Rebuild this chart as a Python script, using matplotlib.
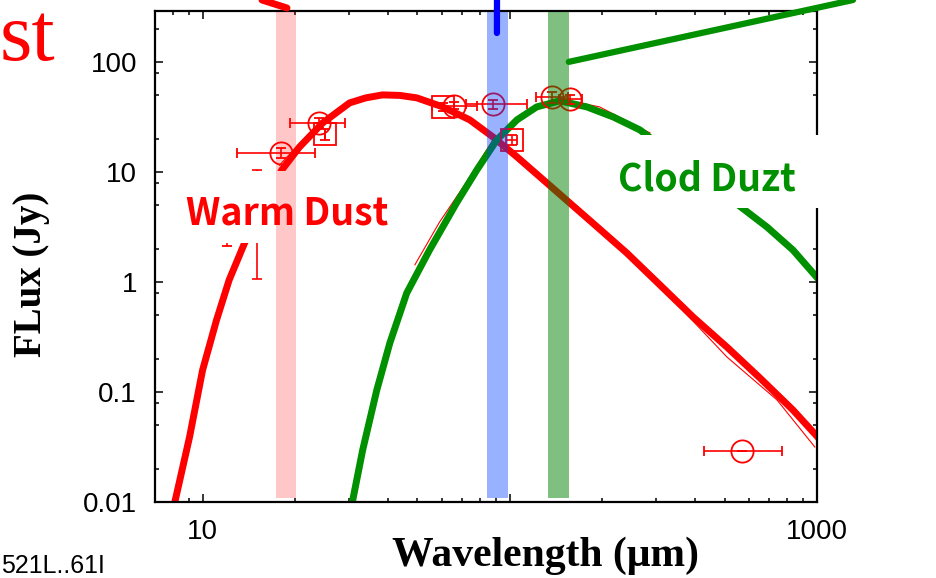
import matplotlib
matplotlib.use("Agg")
import matplotlib.pyplot as plt
from matplotlib.patches import Rectangle
from matplotlib.ticker import FixedLocator, NullFormatter, LogLocator

# --- curves (wavelength um, flux Jy) ---
warm_lam = [8.11, 9.07, 10.0, 11.1, 12.2, 13.7, 18.1, 20.7, 24.6, 30.1, 34.0, 38.5, 43.8,
            49.8, 60.5, 74.1, 88.1, 105.5, 132, 186, 240, 308, 395, 509, 652, 835, 1047]
warm_flux = [0.0098, 0.039, 0.158, 0.45, 1.04, 2.26, 10.4, 16.9, 27.9, 42.4, 47.1, 50.1, 49.6,
             47.1, 39.0, 29.7, 20.8, 13.7, 7.94, 3.44, 1.84, 0.94, 0.48, 0.256, 0.134, 0.0686, 0.0344]

cold_lam = [30.5, 33.2, 36.9, 40.7, 46.2, 54.8, 67.1, 78.1, 90.7, 105.5, 122.4, 145.5,
            178, 217, 265, 570, 687, 835, 1023]
cold_flux = [0.009, 0.0297, 0.104, 0.279, 0.794, 1.95, 5.23, 10.4, 19.5, 29.7, 39.0, 44.2,
             39.0, 31.6, 24.1, 4.71, 3.16, 1.95, 1.02]

# thin fit lines
fit_warm_lam = [17.8, 20.7, 24.6, 30.1, 38.5, 49.8, 60.5, 74.1, 88.1, 105.5, 132, 186, 240,
                308, 395, 509, 741, 984]
fit_warm_flux = [11.5, 18.2, 29.5, 43, 50.1, 47.1, 39.0, 29.7, 20.8, 13.7, 7.94, 3.44, 1.84,
                 0.92, 0.44, 0.208, 0.0846, 0.0316]
fit_cold_lam = [49.1, 59.1, 71.3, 88.1, 108, 145.5, 196, 286]
fit_cold_flux = [1.43, 3.51, 7.62, 19.5, 33.0, 46.1, 39.0, 22.6]

# --- photometry ---
circ_lam = [17.96, 23.9, 66, 88, 137, 157, 570]
circ_flux = [14.9, 27.9, 40, 41.3, 47.7, 45.8, 0.0292]
circ_xlo = [12.9, 19.2, 56, 72, 122, 145, 428]
circ_xhi = [23.2, 29.0, 78, 114, 155, 172, 769]
circ_yerr = [1.5, 3.0, 3.0, 4.0, 5.0, 4.0, 0.0]

sq_lam = [12.0, 25.1, 60.5, 101.5]
sq_flux = [3.0, 22.0, 39.0, 19.5]
sq_yerr = [0.9, 2.5, 3.0, 2.0]
sq_xerr = [0.0, 0.0, 0.0, 4.0]

lim_lam = [15.0]
lim_flux = [3.3]
lim_ylo = [1.07]
lim_yhi = [10.4]

# photometric bands (um)
bands = [(17.3, 20.2, (1, 0, 0), 0.22), (84.1, 98.5, (0, 64/255, 1), 0.4), (133, 155.6, (0, 0.5, 0), 0.5)]

W, H = 937, 578
def fx(px):
    return px / W
def fy(py):
    return 1 - py / H

red = '#ff0000'
green = '#009000'

fig = plt.figure(figsize=(9.37, 5.78), dpi=100)
ax = fig.add_axes([fx(155), fy(502), (817 - 155) / W, (502 - 11) / H])
ax.set_xscale('log')
ax.set_yscale('log')
ax.set_xlim(7, 1000)
ax.set_ylim(0.01, 290)

ax.plot(fit_warm_lam, fit_warm_flux, color=red, lw=0.8, zorder=2)
ax.plot(fit_cold_lam, fit_cold_flux, color=red, lw=0.8, zorder=2)
ax.plot(warm_lam, warm_flux, color=red, lw=5, zorder=2.2, solid_capstyle='butt')
ax.plot(cold_lam, cold_flux, color=green, lw=5, zorder=2.3, solid_capstyle='butt')

xl = [l - a for l, a in zip(circ_lam, circ_xlo)]
xh = [b - l for l, b in zip(circ_lam, circ_xhi)]
ax.errorbar(circ_lam, circ_flux, xerr=[xl, xh], yerr=circ_yerr, fmt='o', ms=16, mfc='none',
            mec=red, mew=1.3, ecolor=red, elinewidth=1.2, capsize=3.5, capthick=1.2, zorder=3)
ax.errorbar(sq_lam, sq_flux, xerr=sq_xerr, yerr=sq_yerr, fmt='s', ms=16, mfc='none',
            mec=red, mew=1.3, ecolor=red, elinewidth=1.2, capsize=3.5, capthick=1.2, zorder=3)
ax.errorbar(lim_lam, lim_flux,
            yerr=[[f - lo for f, lo in zip(lim_flux, lim_ylo)], [hi - f for f, hi in zip(lim_flux, lim_yhi)]],
            fmt='none', ecolor=red, elinewidth=1.2, capsize=3.5, capthick=1.2, zorder=3)

# ticks
ax.xaxis.set_major_locator(FixedLocator([10, 100, 1000]))
ax.set_xticklabels(['10', '', '1000'])
ax.xaxis.set_minor_locator(LogLocator(base=10, subs=range(2, 10)))
ax.xaxis.set_minor_formatter(NullFormatter())
ax.yaxis.set_major_locator(FixedLocator([0.01, 0.1, 1, 10, 100]))
ax.set_yticklabels(['0.01', '0.1', '1', '10', '100'])
ax.yaxis.set_minor_locator(LogLocator(base=10, subs=(2, 5, 8)))
ax.yaxis.set_minor_formatter(NullFormatter())
ax.tick_params(which='both', direction='in', top=True, right=True, width=1.1, color='black')
ax.tick_params(which='major', length=6)
ax.tick_params(which='minor', length=3)
ax.tick_params(axis='y', pad=13, labelsize=20)
ax.tick_params(axis='x', pad=12, labelsize=20)
for lab in ax.get_xticklabels() + ax.get_yticklabels():
    lab.set_family('Liberation Sans')
for s in ax.spines.values():
    s.set_linewidth(1.6)

# white label boxes pasted over the plot
ax.add_patch(Rectangle((fx(185), fy(243)), fx(392) - fx(185), fy(171) - fy(243),
                       transform=fig.transFigure, facecolor='white', edgecolor='none',
                       clip_on=False, zorder=4))
ax.add_patch(Rectangle((fx(598), fy(208)), fx(880) - fx(598), fy(135) - fy(208),
                       transform=fig.transFigure, facecolor='white', edgecolor='none',
                       clip_on=False, zorder=4))
fig.text(fx(287), fy(213), 'Warm Dust', color=red, fontsize=27, fontweight='bold',
         family='Noto Sans CJK JP', ha='center', va='center', zorder=5)
fig.text(fx(707), fy(179), 'Clod Duzt', color=green, fontsize=27, fontweight='bold',
         family='Noto Sans CJK JP', ha='center', va='center', zorder=5)

for lo, hi, c, a in bands:
    ax.axvspan(lo, hi, ymin=0.008, ymax=0.998, color=c, alpha=a, lw=0, zorder=6)

# pointer lines running off the figure
ax.annotate('', xy=(155.6, 100), xycoords='data', xytext=(fx(853), 1.0), textcoords='figure fraction',
            arrowprops=dict(arrowstyle='-', color=green, lw=4.5, shrinkA=0, shrinkB=0), zorder=7)
ax.annotate('', xy=(90.8, 183), xycoords='data', xytext=(fx(497), 1.0), textcoords='figure fraction',
            arrowprops=dict(arrowstyle='-', color='blue', lw=4.5, shrinkA=0, shrinkB=0), zorder=7)
ax.annotate('', xy=(fx(287), fy(8)), xycoords='figure fraction', xytext=(fx(262), 1.0),
            textcoords='figure fraction',
            arrowprops=dict(arrowstyle='-', color=red, lw=5, shrinkA=0, shrinkB=0), zorder=7)

fig.text(fx(55), fy(60), 'st', color=red, fontsize=60, family='Liberation Serif',
         ha='right', va='baseline')
fig.text(fx(32), fy(274), 'FLux (Jy)', rotation=90, fontsize=28, fontweight='bold',
         family='Liberation Serif', ha='center', va='center')
fig.text(fx(545), fy(556), 'Wavelength (μm)', fontsize=30, fontweight='bold',
         family='Liberation Serif', ha='center', va='center')
fig.text(fx(1), fy(566), '521L..61I', fontsize=18, family='Liberation Sans',
         ha='left', va='center')

fig.savefig('out.png', dpi=100)
